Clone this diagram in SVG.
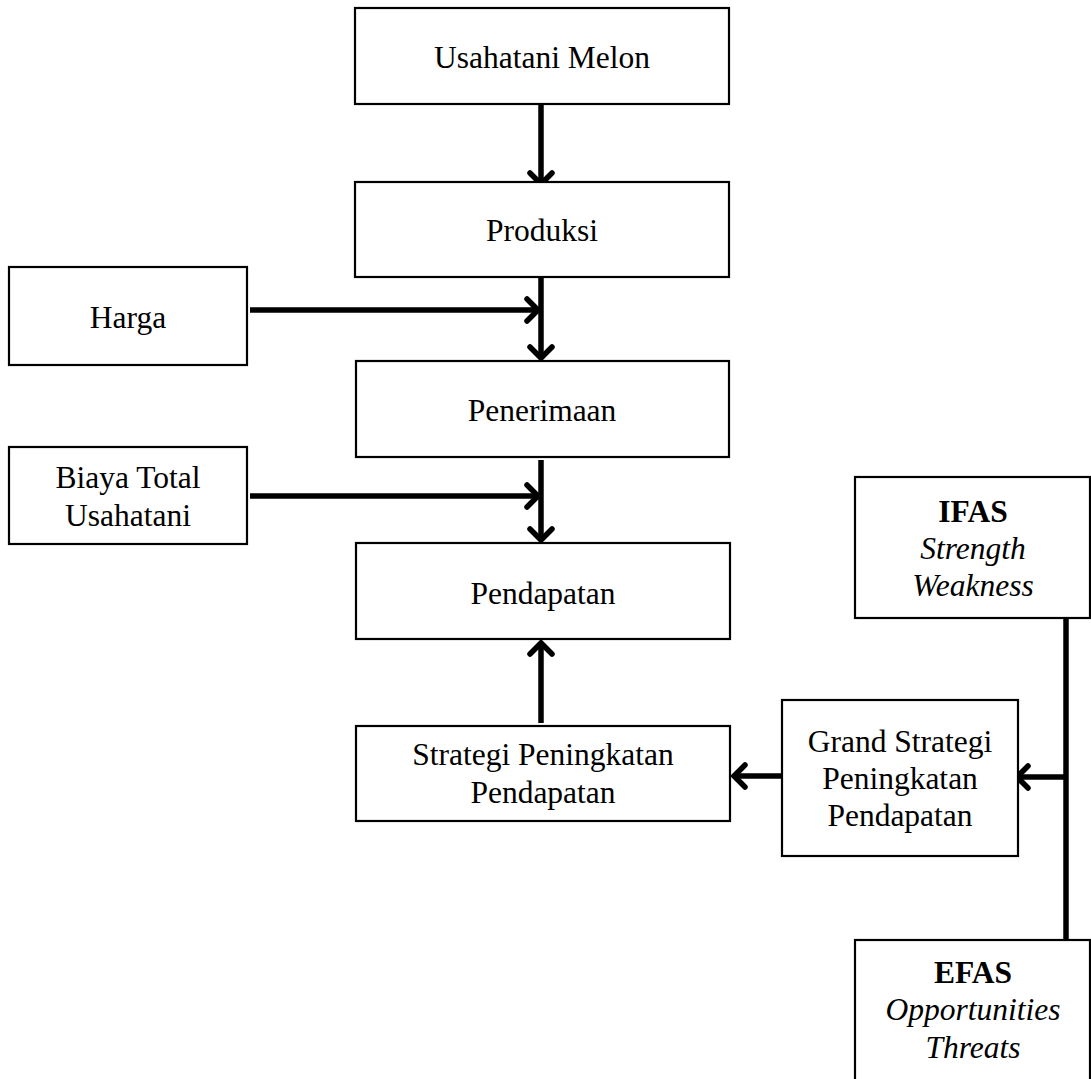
<svg xmlns="http://www.w3.org/2000/svg" width="1091" height="1079" viewBox="0 0 1091 1079">
<style>
.box{fill:#fff;stroke:#000;stroke-width:2.2}
.t{font-family:"Liberation Serif","Times New Roman",serif;font-size:31.5px;fill:#000;text-anchor:middle}
.b{font-weight:bold}
.i{font-style:italic}
.c{fill:none;stroke:#000;stroke-width:5.5}
</style>
<defs>
<marker id="ah" markerUnits="userSpaceOnUse" viewBox="-16 -16 20 32" markerWidth="20" markerHeight="32" refX="0" refY="0" orient="auto">
<path d="M-11,-11 L0,0 L-11,11" fill="none" stroke="#000" stroke-width="5.5" stroke-linecap="round" stroke-linejoin="miter"/>
</marker>
</defs>
<rect width="1091" height="1079" fill="#fff"/>
<g id="connectors">
<line class="c" x1="541" y1="104" x2="541" y2="184" marker-end="url(#ah)"/>
<line class="c" x1="541" y1="277" x2="541" y2="358" marker-end="url(#ah)"/>
<line class="c" x1="250" y1="310" x2="538" y2="310" marker-end="url(#ah)"/>
<line class="c" x1="541" y1="460" x2="541" y2="540" marker-end="url(#ah)"/>
<line class="c" x1="250" y1="496" x2="538" y2="496" marker-end="url(#ah)"/>
<line class="c" x1="541" y1="723" x2="541" y2="643" marker-end="url(#ah)"/>
<line class="c" x1="781" y1="776" x2="734" y2="776" marker-end="url(#ah)"/>
<line class="c" x1="1066" y1="618" x2="1066" y2="940"/>
<line class="c" x1="1068" y1="777" x2="1017" y2="777" marker-end="url(#ah)"/>
</g>
<g id="usahatani">
<rect class="box" x="355" y="8" width="374" height="96"/>
<text class="t" x="542" y="68">Usahatani Melon</text>
</g>
<g id="produksi">
<rect class="box" x="355" y="182" width="374" height="95"/>
<text class="t" x="542" y="241">Produksi</text>
</g>
<g id="harga">
<rect class="box" x="9" y="267" width="238" height="98"/>
<text class="t" x="128" y="328">Harga</text>
</g>
<g id="penerimaan">
<rect class="box" x="356" y="361" width="373" height="96"/>
<text class="t" x="542" y="421">Penerimaan</text>
</g>
<g id="biaya">
<rect class="box" x="9" y="447" width="238" height="97"/>
<text class="t" x="128" y="488">Biaya Total</text>
<text class="t" x="128" y="526">Usahatani</text>
</g>
<g id="pendapatan">
<rect class="box" x="356" y="543" width="374" height="96"/>
<text class="t" x="543" y="604">Pendapatan</text>
</g>
<g id="strategi">
<rect class="box" x="356" y="726" width="374" height="95"/>
<text class="t" x="543" y="765">Strategi Peningkatan</text>
<text class="t" x="543" y="803">Pendapatan</text>
</g>
<g id="grand">
<rect class="box" x="782" y="700" width="236" height="156"/>
<text class="t" x="900" y="752">Grand Strategi</text>
<text class="t" x="900" y="789">Peningkatan</text>
<text class="t" x="900" y="826">Pendapatan</text>
</g>
<g id="ifas">
<rect class="box" x="855" y="477" width="235" height="141"/>
<text class="t b" x="973" y="522">IFAS</text>
<text class="t i" x="973" y="559">Strength</text>
<text class="t i" x="973" y="596">Weakness</text>
</g>
<g id="efas">
<rect class="box" x="855" y="940" width="235" height="160"/>
<text class="t b" x="973" y="983">EFAS</text>
<text class="t i" x="973" y="1020">Opportunities</text>
<text class="t i" x="973" y="1058">Threats</text>
</g>
</svg>
